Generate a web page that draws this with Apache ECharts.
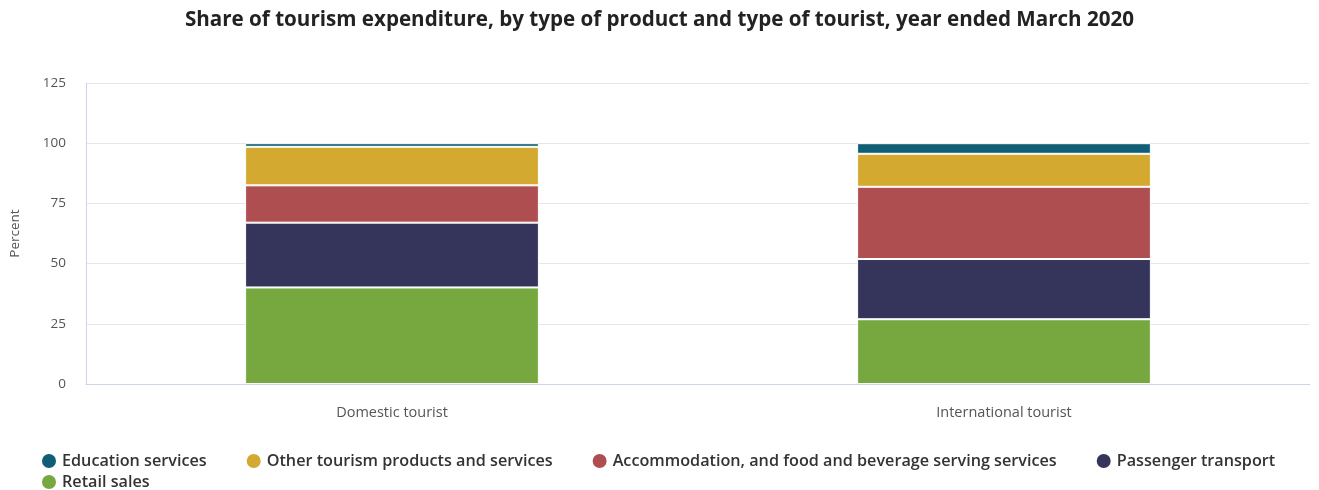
<!DOCTYPE html>
<html><head><meta charset="utf-8">
<script src="https://cdn.jsdelivr.net/npm/echarts@6/dist/echarts.min.js"></script>
<style>html,body{margin:0;padding:0;background:#fff}#c{width:1319px;height:490px}</style>
</head><body><div id="c"></div>
<script>
const categories = ['Domestic tourist', 'International tourist'];
const retailSales = [40.1, 26.9];
const passengerTransport = [26.9, 25.0];
const accommodation = [15.5, 30.0];
const otherTourism = [16.0, 13.7];
const educationServices = [1.5, 4.4];
const yTicks = [0, 25, 50, 75, 100, 125];

const names = {
  edu: 'Education services',
  other: 'Other tourism products and services',
  acc: 'Accommodation, and food and beverage serving services',
  pass: 'Passenger transport',
  retail: 'Retail sales'
};
const colors = {edu:'#0f5e75', other:'#d3a92f', acc:'#ae4e50', pass:'#35345a', retail:'#76a83f'};
const FONT = 'Open Sans';
const legendText = {fontFamily:FONT, fontWeight:600, fontSize:16.2, color:'#333'};

function s(name, data, color){
  return {name, type:'bar', stack:'total', data, barWidth:'48%',
    itemStyle:{color, borderColor:'#ffffff', borderWidth:1}, emphasis:{disabled:true}};
}

const chart = echarts.init(document.getElementById('c'));
chart.setOption({
  animation:false,
  title:{text:'Share of tourism expenditure, by type of product and type of tourist, year ended March 2020',
    left:'center', top:5, textStyle:{fontFamily:FONT, fontWeight:'bold', fontSize:20.6, color:'#222'}},
  grid:{left:85, right:9, top:83, bottom:106},
  legend:[
    {left:35, top:447, itemGap:38, icon:'circle', itemWidth:16, itemHeight:16, selectedMode:false,
     data:[names.edu, names.other, names.acc, names.pass], textStyle:legendText},
    {left:35, top:468, itemGap:38, icon:'circle', itemWidth:16, itemHeight:16, selectedMode:false,
     data:[names.retail], textStyle:legendText}
  ],
  xAxis:{type:'category', data:categories,
    axisLine:{lineStyle:{color:'#ccd6eb'}},
    axisTick:{alignWithLabel:true, length:10, lineStyle:{color:'#ccd6eb'}},
    axisLabel:{fontFamily:FONT, fontSize:14.5, color:'#555', margin:21}},
  yAxis:{type:'value', min:0, max:125, interval:25,
    name:'Percent', nameLocation:'middle', nameGap:64,
    nameTextStyle:{fontFamily:FONT, fontSize:13.5, color:'#555'},
    axisLine:{show:true, lineStyle:{color:'#ccd6eb'}},
    axisLabel:{fontFamily:FONT, fontSize:13.5, color:'#555', margin:20,
      formatter:v=>yTicks.includes(v)?String(v):''},
    splitLine:{lineStyle:{color:'#e6e6e6'}}},
  series:[
    s(names.retail, retailSales, colors.retail),
    s(names.pass, passengerTransport, colors.pass),
    s(names.acc, accommodation, colors.acc),
    s(names.other, otherTourism, colors.other),
    s(names.edu, educationServices, colors.edu)
  ]
});
</script></body></html>
